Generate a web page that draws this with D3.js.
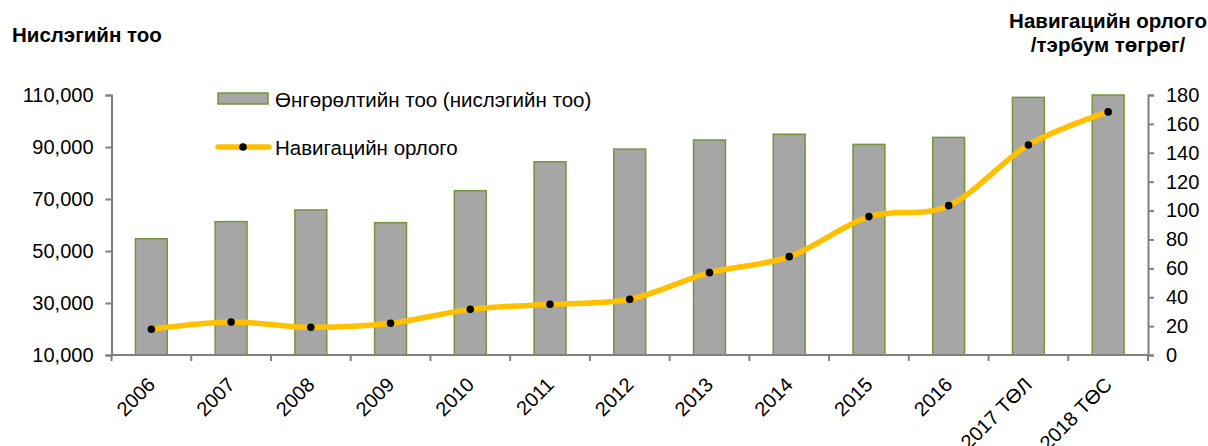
<!DOCTYPE html>
<html><head><meta charset="utf-8">
<script src="https://cdn.jsdelivr.net/npm/d3@7"></script>
<style>
body{margin:0;background:#fff;}
text{font-family:"Liberation Sans",Arial,sans-serif;fill:#000;}
</style></head><body>
<svg id="c" width="1208" height="446"></svg>
<script>
const categories = ["2006","2007","2008","2009","2010","2011","2012","2013","2014","2015","2016","2017 ТӨЛ","2018 ТӨС"];
const flights = [54700,61300,65800,60900,73200,84300,89200,92700,94900,91000,93700,109100,110000];
const revenue = [17.8,22.8,19.2,22.0,31.6,35.1,38.6,57.0,68.1,95.8,103.4,145.4,168.3];
const leftTicks = [10000,30000,50000,70000,90000,110000];
const rightTicks = [0,20,40,60,80,100,120,140,160,180];
const barLabel = "Өнгөрөлтийн тоо (нислэгийн тоо)";
const lineLabel = "Навигацийн орлого";
const leftTitle = "Нислэгийн тоо";
const rightTitle = ["Навигацийн орлого","/тэрбум төгрөг/"];

const svg = d3.select("#c");
const L = 111.5, R = 1148, T = 95, B = 355;
const x = d3.scaleBand().domain(categories).range([L,R]).paddingInner(0.6).paddingOuter(0.3);
const yL = d3.scaleLinear().domain([10000,110000]).range([B,T]);
const yR = d3.scaleLinear().domain([0,180]).range([B,T]);
const axisCol = "#808080";

// bars
svg.append("g").selectAll("rect").data(flights).join("rect")
  .attr("x",(d,i)=>x(categories[i]))
  .attr("y",d=>yL(d))
  .attr("width",x.bandwidth())
  .attr("height",d=>B-yL(d))
  .attr("fill","#A6A6A6").attr("stroke","#77933C").attr("stroke-width",1.5);

// left axis
const gl = svg.append("g").attr("transform",`translate(${L},0)`)
  .call(d3.axisLeft(yL).tickValues(leftTicks).tickSize(6).tickPadding(12).tickFormat(d3.format(",")));
// right axis
const gr = svg.append("g").attr("transform",`translate(${R},0)`)
  .call(d3.axisRight(yR).tickValues(rightTicks).tickSize(6).tickPadding(12));
// x axis
const gx = svg.append("g").attr("transform",`translate(0,${B})`);
gx.append("line").attr("x1",L).attr("x2",R).attr("y1",0).attr("y2",0).attr("stroke",axisCol).attr("stroke-width",2);
const bounds = d3.range(categories.length+1).map(i=>L+(R-L)*i/categories.length);
gx.selectAll("line.t").data(bounds).join("line").attr("class","t")
  .attr("x1",d=>d).attr("x2",d=>d).attr("y1",0).attr("y2",6).attr("stroke",axisCol).attr("stroke-width",2);
gx.selectAll("text").data(categories).join("text")
  .attr("text-anchor","end")
  .attr("transform",d=>`translate(${x(d)+x.bandwidth()/2+5},${31}) rotate(-45)`)
  .attr("font-size",20).text(d=>d);

[gl,gr].forEach(g=>{
  g.select(".domain").attr("stroke",axisCol).attr("stroke-width",2);
  g.selectAll(".tick line").attr("stroke",axisCol).attr("stroke-width",2);
  g.selectAll(".tick text").attr("font-size",20).attr("fill","#000").style("font-family","'Liberation Sans',Arial,sans-serif");
});

// line
const line = d3.line().x((d,i)=>x(categories[i])+x.bandwidth()/2).y(d=>yR(d)).curve(d3.curveCardinal.tension(0));
svg.append("path").datum(revenue).attr("d",line).attr("fill","none").attr("stroke","#FFC000").attr("stroke-width",5.5).attr("stroke-linecap","round");
svg.append("g").selectAll("circle").data(revenue).join("circle")
  .attr("cx",(d,i)=>x(categories[i])+x.bandwidth()/2).attr("cy",d=>yR(d)).attr("r",3.8).attr("fill","#000");

// legend
svg.append("rect").attr("x",218).attr("y",93).attr("width",50).attr("height",11).attr("fill","#A6A6A6").attr("stroke","#77933C").attr("stroke-width",1.5);
svg.append("text").attr("x",275).attr("y",107).attr("font-size",20.5).text(barLabel);
svg.append("line").attr("x1",218).attr("x2",269).attr("y1",147).attr("y2",147).attr("stroke","#FFC000").attr("stroke-width",5.5).attr("stroke-linecap","round");
svg.append("circle").attr("cx",243).attr("cy",147).attr("r",3.8).attr("fill","#000");
svg.append("text").attr("x",275).attr("y",155).attr("font-size",20.5).text(lineLabel);

// titles
svg.append("text").attr("x",12).attr("y",42).attr("font-size",20.5).attr("font-weight","bold").text(leftTitle);
svg.append("text").attr("x",1108).attr("y",28).attr("text-anchor","middle").attr("font-size",20.5).attr("font-weight","bold").text(rightTitle[0]);
svg.append("text").attr("x",1108).attr("y",52).attr("text-anchor","middle").attr("font-size",20.5).attr("font-weight","bold").text(rightTitle[1]);
</script></body></html>
